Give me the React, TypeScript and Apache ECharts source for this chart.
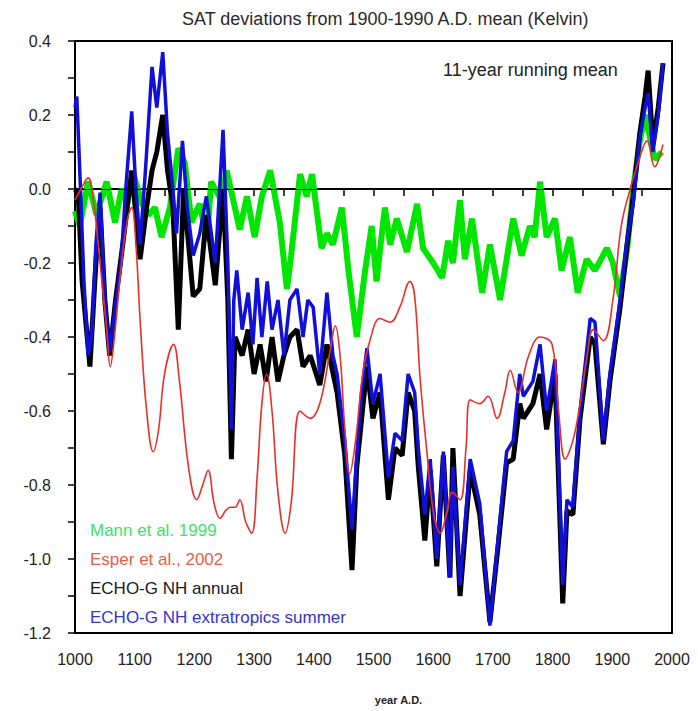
import React, { useEffect, useRef } from 'react';
import * as echarts from 'echarts';

const TITLE = 'SAT deviations from 1900-1990 A.D. mean (Kelvin)';
const NOTE = '11-year running mean';
const X_NAME = 'year A.D.';
const NAME_MANN = 'Mann et al. 1999';
const NAME_ESPER = 'Esper et al., 2002';
const NAME_ANNUAL = 'ECHO-G NH annual';
const NAME_SUMMER = 'ECHO-G NH extratropics summer';

const mannData: [number, number][] = [
  [1000, -0.06], [1008, -0.1], [1022, 0.02], [1036, -0.07], [1053, 0.02], [1067, -0.09], [1078, 0.0],
  [1087, -0.04], [1098, 0.04], [1112, -0.04], [1123, -0.07], [1134, -0.05], [1145, -0.13], [1159, -0.05],
  [1173, 0.11], [1184, 0.07], [1195, -0.09], [1209, -0.04], [1221, -0.14], [1228, 0.02], [1245, -0.03],
  [1254, 0.05], [1276, -0.11], [1288, -0.02], [1301, -0.13], [1313, -0.02], [1327, 0.05], [1343, -0.09],
  [1355, -0.27], [1362, -0.18], [1377, 0.04], [1388, -0.02], [1397, 0.04], [1413, -0.16], [1422, -0.12],
  [1432, -0.15], [1447, -0.05], [1458, -0.22], [1472, -0.4], [1486, -0.22], [1497, -0.1], [1505, -0.25],
  [1519, -0.05], [1528, -0.15], [1539, -0.08], [1556, -0.17], [1573, -0.04], [1583, -0.16], [1600, -0.2],
  [1615, -0.24], [1625, -0.14], [1633, -0.2], [1645, -0.03], [1653, -0.19], [1665, -0.08], [1682, -0.28],
  [1695, -0.15], [1712, -0.3], [1734, -0.08], [1748, -0.18], [1762, -0.1], [1770, -0.13], [1779, 0.02],
  [1790, -0.13], [1804, -0.08], [1815, -0.22], [1829, -0.13], [1842, -0.28], [1857, -0.19], [1871, -0.22],
  [1891, -0.16], [1901, -0.2], [1913, -0.29], [1925, -0.16], [1935, 0.0], [1946, 0.13], [1955, 0.2],
  [1963, 0.14], [1971, 0.08], [1983, 0.1],
];

const esperData: [number, number][] = [
  [1000, -0.03], [1010, 0.0], [1022, 0.03], [1030, -0.02], [1042, -0.2], [1053, -0.38], [1059, -0.48],
  [1066, -0.4], [1078, -0.2], [1088, -0.08], [1095, -0.05], [1102, -0.15], [1110, -0.38], [1120, -0.6],
  [1131, -0.71], [1140, -0.65], [1150, -0.5], [1165, -0.42], [1175, -0.52], [1190, -0.75], [1204, -0.84],
  [1214, -0.8], [1223, -0.76], [1233, -0.85], [1243, -0.89], [1252, -0.87], [1260, -0.86], [1268, -0.86],
  [1276, -0.84], [1286, -0.9], [1296, -0.93], [1305, -0.78], [1313, -0.58], [1321, -0.5], [1330, -0.6],
  [1340, -0.82], [1352, -0.93], [1362, -0.85], [1377, -0.6], [1394, -0.62], [1410, -0.58], [1427, -0.44],
  [1436, -0.37], [1444, -0.45], [1452, -0.65], [1460, -0.77], [1470, -0.68], [1482, -0.5], [1494, -0.41],
  [1511, -0.35], [1528, -0.36], [1544, -0.32], [1561, -0.25], [1569, -0.29], [1578, -0.51], [1590, -0.72],
  [1600, -0.87], [1612, -0.93], [1622, -0.88], [1632, -0.82], [1645, -0.84], [1655, -0.7], [1662, -0.57],
  [1678, -0.58], [1692, -0.56], [1707, -0.62], [1720, -0.55], [1729, -0.49], [1742, -0.55], [1760, -0.45],
  [1779, -0.4], [1799, -0.42], [1810, -0.6], [1821, -0.73], [1834, -0.68], [1846, -0.58], [1858, -0.45],
  [1868, -0.38], [1885, -0.41], [1901, -0.3], [1915, -0.1], [1930, 0.0], [1945, 0.08], [1958, 0.13],
  [1971, 0.06], [1985, 0.12],
];

const annualData: [number, number][] = [
  [1000, -0.01], [1005, 0.0], [1012, -0.25], [1025, -0.48], [1035, -0.2], [1042, -0.05], [1050, -0.3],
  [1058, -0.45], [1068, -0.3], [1080, -0.15], [1095, 0.05], [1109, -0.19], [1120, -0.05], [1129, 0.05],
  [1137, 0.1], [1147, 0.2], [1155, 0.05], [1164, -0.05], [1173, -0.38], [1182, 0.0], [1198, -0.29],
  [1209, -0.27], [1220, -0.07], [1235, -0.26], [1248, 0.0], [1256, -0.3], [1262, -0.73], [1268, -0.4],
  [1280, -0.45], [1290, -0.38], [1300, -0.5], [1310, -0.42], [1320, -0.52], [1330, -0.4], [1340, -0.52],
  [1350, -0.45], [1360, -0.4], [1372, -0.38], [1382, -0.48], [1394, -0.45], [1410, -0.53], [1422, -0.42],
  [1439, -0.55], [1452, -0.72], [1464, -1.03], [1472, -0.75], [1489, -0.48], [1499, -0.62], [1511, -0.55],
  [1525, -0.84], [1536, -0.7], [1548, -0.72], [1558, -0.55], [1569, -0.6], [1575, -0.75], [1586, -0.95],
  [1595, -0.76], [1606, -1.02], [1617, -0.72], [1628, -1.05], [1633, -0.7], [1645, -1.1], [1662, -0.76],
  [1678, -0.88], [1695, -1.17], [1709, -0.96], [1723, -0.74], [1734, -0.73], [1745, -0.58], [1751, -0.62],
  [1767, -0.58], [1779, -0.5], [1790, -0.65], [1804, -0.5], [1817, -1.12], [1824, -0.87], [1834, -0.88],
  [1846, -0.62], [1863, -0.4], [1871, -0.42], [1885, -0.69], [1896, -0.52], [1913, -0.32], [1925, -0.15],
  [1935, -0.02], [1946, 0.15], [1955, 0.25], [1960, 0.32], [1968, 0.12], [1977, 0.22], [1985, 0.34],
];

const summerData: [number, number][] = [
  [1000, 0.22], [1003, 0.25], [1008, 0.05], [1015, -0.25], [1022, -0.45], [1028, -0.4], [1035, -0.15],
  [1042, -0.01], [1050, -0.3], [1058, -0.44], [1065, -0.35], [1077, -0.2], [1085, 0.0], [1095, 0.21],
  [1102, 0.0], [1109, -0.15], [1118, 0.05], [1129, 0.33], [1137, 0.22], [1147, 0.37], [1155, 0.15],
  [1164, 0.0], [1170, -0.12], [1180, 0.13], [1188, -0.05], [1198, -0.18], [1209, -0.12], [1220, -0.02],
  [1235, -0.2], [1248, 0.16], [1256, -0.2], [1262, -0.65], [1266, -0.3], [1271, -0.22], [1280, -0.38],
  [1290, -0.28], [1298, -0.42], [1305, -0.24], [1313, -0.4], [1322, -0.25], [1330, -0.38], [1340, -0.3],
  [1350, -0.45], [1360, -0.3], [1372, -0.27], [1382, -0.4], [1390, -0.3], [1399, -0.32], [1410, -0.5],
  [1422, -0.28], [1432, -0.45], [1439, -0.5], [1452, -0.68], [1464, -0.92], [1472, -0.72], [1480, -0.55],
  [1489, -0.43], [1499, -0.58], [1511, -0.5], [1525, -0.78], [1536, -0.66], [1548, -0.68], [1558, -0.5],
  [1569, -0.55], [1575, -0.7], [1586, -0.88], [1595, -0.73], [1606, -1.0], [1617, -0.71], [1628, -1.05],
  [1633, -0.75], [1645, -1.07], [1662, -0.73], [1678, -0.85], [1695, -1.18], [1709, -0.94], [1723, -0.71],
  [1734, -0.68], [1745, -0.5], [1751, -0.56], [1767, -0.52], [1779, -0.42], [1790, -0.6], [1804, -0.46],
  [1817, -1.07], [1824, -0.84], [1834, -0.86], [1846, -0.6], [1863, -0.35], [1871, -0.36], [1885, -0.68],
  [1896, -0.5], [1913, -0.3], [1925, -0.13], [1935, -0.04], [1946, 0.14], [1955, 0.22], [1960, 0.26],
  [1968, 0.1], [1977, 0.2], [1985, 0.34],
];

const FONT = '"Liberation Sans", Arial, Helvetica, sans-serif';

export default function App() {
  const ref = useRef<HTMLDivElement>(null);
  useEffect(() => {
    if (!ref.current) return;
    const chart = echarts.init(ref.current, null, { renderer: 'svg' });
    chart.setOption({
      animation: false,
      backgroundColor: '#ffffff',
      textStyle: { fontFamily: FONT },
      title: {
        text: TITLE,
        left: 182,
        top: 10,
        padding: 0,
        textStyle: { fontSize: 18, fontWeight: 'normal', color: '#2a2a2a', fontFamily: FONT },
      },
      legend: {
        orient: 'vertical',
        left: 85,
        top: 522,
        padding: 0,
        icon: 'none',
        itemWidth: 0,
        itemHeight: 17,
        itemGap: 12,
        selectedMode: false,
        textStyle: { fontSize: 17, lineHeight: 17, fontFamily: FONT },
        data: [
          { name: NAME_MANN, textStyle: { color: '#3ee26a' } },
          { name: NAME_ESPER, textStyle: { color: '#e2604c' } },
          { name: NAME_ANNUAL, textStyle: { color: '#1a1a1a' } },
          { name: NAME_SUMMER, textStyle: { color: '#3434d0' } },
        ],
      },
      graphic: [
        {
          type: 'text',
          left: 443,
          top: 61,
          style: { text: NOTE, fontSize: 18, fill: '#222', fontFamily: FONT },
        },
      ],
      grid: {
        left: 75,
        right: 26,
        top: 41,
        bottom: 78,
        show: true,
        borderColor: '#000',
        borderWidth: 2,
        backgroundColor: 'transparent',
      },
      xAxis: {
        type: 'value',
        min: 1000,
        max: 2000,
        interval: 100,
        name: X_NAME,
        nameLocation: 'middle',
        nameGap: 61,
        nameTextStyle: { fontSize: 11, fontWeight: 'bold', color: '#222', padding: [0, 0, 0, 50] },
        axisLine: { show: true, lineStyle: { color: '#000', width: 2 } },
        axisTick: { show: true, inside: false, length: 7, lineStyle: { color: '#000', width: 1.5 } },
        minorTick: { show: true, splitNumber: 2, length: 7, lineStyle: { color: '#000', width: 1.5 } },
        splitLine: { show: false },
        axisLabel: {
          fontSize: 16,
          color: '#222',
          margin: 18,
          fontFamily: FONT,
          formatter: (v: number) => String(v),
        },
      },
      yAxis: {
        type: 'value',
        min: -1.2,
        max: 0.4,
        interval: 0.2,
        axisLine: { show: true, lineStyle: { color: '#000', width: 2 } },
        axisTick: { show: true, inside: false, length: 7, lineStyle: { color: '#000', width: 1.5 } },
        minorTick: { show: true, splitNumber: 2, length: 7, lineStyle: { color: '#000', width: 1.5 } },
        splitLine: { show: false },
        axisLabel: {
          fontSize: 16,
          color: '#222',
          margin: 24,
          fontFamily: FONT,
          formatter: (v: number) => v.toFixed(1),
        },
      },
      series: [
        {
          name: NAME_MANN,
          type: 'line',
          data: mannData,
          showSymbol: false,
          lineStyle: { color: '#00e600', width: 6 },
          itemStyle: { color: '#00e600' },
          z: 2,
        },
        {
          name: NAME_ANNUAL,
          type: 'line',
          data: annualData,
          showSymbol: false,
          lineStyle: { color: '#000000', width: 5 },
          itemStyle: { color: '#000000' },
          z: 3,
        },
        {
          name: NAME_SUMMER,
          type: 'line',
          data: summerData,
          showSymbol: false,
          lineStyle: { color: '#1010d8', width: 3.5 },
          itemStyle: { color: '#1010d8' },
          z: 4,
        },
        {
          name: NAME_ESPER,
          type: 'line',
          data: esperData,
          smooth: 0.4,
          showSymbol: false,
          lineStyle: { color: '#e8302a', width: 1.6 },
          itemStyle: { color: '#e8302a' },
          z: 5,
          markLine: {
            silent: true,
            symbol: ['none', 'none'],
            label: { show: false },
            lineStyle: { color: '#000', width: 1, type: 'solid' },
            data: [{ yAxis: 0 }],
          },
        },
      ],
    });
    return () => chart.dispose();
  }, []);
  return (
    <div
      ref={ref}
      style={{ position: 'fixed', left: 0, top: 0, width: 698, height: 711 }}
    />
  );
}
